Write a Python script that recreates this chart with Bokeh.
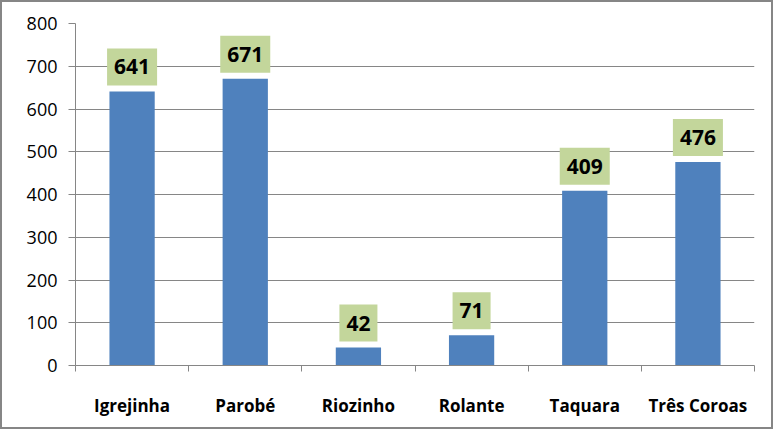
from bokeh.plotting import figure
from bokeh.models import ColumnDataSource, Range1d, FixedTicker
from bokeh.core.properties import value
from bokeh.embed import file_html
from bokeh.resources import INLINE

cities = ["Igrejinha", "Parobé", "Riozinho", "Rolante", "Taquara", "Três Coroas"]
counts = [641, 671, 42, 71, 409, 476]
y_ticks = [0, 100, 200, 300, 400, 500, 600, 700, 800]

GRAY = "#868686"
FONT = "Open Sans"

n = len(cities)
centers = [i + 0.5 for i in range(n)]
bounds = list(range(n + 1))
src = ColumnDataSource(data=dict(x=centers, count=counts, label=[str(v) for v in counts]))

p = figure(x_range=Range1d(0, n), y_range=Range1d(0, 800),
           width=773, height=429, output_backend="svg", toolbar_location=None,
           min_border_left=73, min_border_right=21, min_border_top=21, min_border_bottom=66)
p.styles = {"border": "2px solid " + GRAY}
p.outline_line_color = None
p.background_fill_color = "white"
p.border_fill_color = "white"

p.vbar(x="x", top="count", width=0.4, source=src, color="#4F81BD", line_color=None)

p.text(x="x", y="count", text="label", source=src, anchor="bottom_center", y_offset=-6,
       text_font=value(FONT), text_font_style="bold", text_font_size="21px", text_color="black",
       background_fill_color="#C3D69B", padding=(7, 7, 11, 11))

# y axis
yax = p.yaxis[0]
yax.ticker = FixedTicker(ticks=y_ticks)
yax.axis_line_color = GRAY
yax.major_tick_line_color = GRAY
yax.major_tick_out = 7
yax.major_tick_in = 0
yax.minor_tick_line_color = None
yax.major_label_text_font = FONT
yax.major_label_text_font_size = "18px"
yax.major_label_text_color = "black"
yax.major_label_standoff = 11

p.ygrid.grid_line_color = GRAY
p.xgrid.grid_line_color = None

# x axis: labels at category centres, tick marks at category boundaries
xax = p.xaxis[0]
xax.ticker = FixedTicker(ticks=centers, minor_ticks=bounds)
xax.major_label_overrides = {c: name for c, name in zip(centers, cities)}
xax.axis_line_color = GRAY
xax.major_tick_line_color = None
xax.major_tick_out = 6
xax.major_tick_in = 0
xax.minor_tick_line_color = GRAY
xax.minor_tick_out = 6
xax.minor_tick_in = 0
xax.major_label_text_font = FONT
xax.major_label_text_font_style = "bold"
xax.major_label_text_font_size = "17px"
xax.major_label_text_color = "black"
xax.major_label_standoff = 22

open("out.html", "w").write(file_html(p, INLINE))
